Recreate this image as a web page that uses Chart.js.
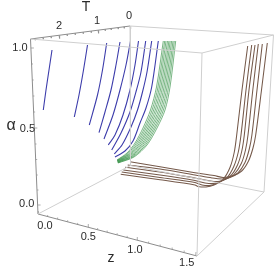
<!DOCTYPE html>
<html>
<head>
<meta charset="utf-8">
<style>
    html, body { margin: 0; padding: 0; background: #fff; }
    canvas { display: block; }
</style>
<script src="https://cdn.jsdelivr.net/npm/chart.js@4"></script>
</head>
<body>
<canvas id="chart" width="280" height="271"></canvas>
<script>
const boxBack = [[130, 26], [130.5, 165.5]];
const boxBottomBackLeft = [[38, 214], [130.5, 165.5]];
const boxBottomBackRight = [[130.5, 165.5], [264, 192]];
const boxTopFront = [[30.5, 39], [202, 53]];
const boxTopBack = [[130, 26], [273.5, 35]];
const boxTopRight = [[202, 53], [273.5, 35]];
const boxFront = [[202, 53], [197, 256]];
const boxRight = [[273.5, 35], [264, 192]];
const boxBottomRight = [[197, 256], [264, 192]];

const axisT = [[130, 26], [30.5, 39]];
const axisAlpha = [[30.5, 39], [38, 214]];
const axisZ = [[38, 214], [197, 256]];

const tTickX = [130, 124, 118, 111, 105, 98, 91, 83, 75, 67, 59, 51, 43, 35];
const tTickY = [26, 26.8, 27.6, 28.5, 29.3, 30.3, 31.2, 32.2, 33.3, 34.4, 35.5, 36.6, 37.7, 38.7];
const zTickX = [38, 47.5, 57.5, 67.5, 77.5, 88, 97.5, 107, 117, 127, 137, 148.5, 160, 172, 184, 195.7];
const zTickY = [214, 216.5, 219, 221.7, 224.4, 227, 229.5, 232, 234.7, 237.4, 240, 243, 246, 249, 252, 255];
const alphaTickX = [37.6, 37, 36.3, 35.7, 35, 34.3, 33.6, 32.9, 32.2, 31.5, 30.9];
const alphaTickY = [205, 190, 175, 159.5, 144, 128, 112, 96, 80, 64, 48];

const blue1 = [[52, 50], [49, 70], [46, 90], [43.3, 110]];
const blue2 = [[87.5, 45], [83.5, 70], [79, 95], [74.3, 117]];
const blue3 = [[106.7, 43], [102.5, 70], [97.5, 95], [89.3, 125]];
const blue4 = [[120, 42], [116, 65], [111, 90], [105, 112], [99, 132.7]];
const blue5 = [[130.5, 41], [126, 65], [120, 90], [113, 115], [104, 139]];
const blue6 = [[138.5, 41], [135, 65], [130, 90], [123, 115], [115, 135], [108.3, 145]];
const blue7 = [[145.7, 41], [141, 72], [136.5, 90], [130, 112], [121, 133], [111.7, 150]];
const blue8 = [[151.7, 41], [147, 72], [142.5, 92], [137.5, 110], [131, 127], [122, 145], [114.3, 154]];
const blue9 = [[158.3, 41], [151.7, 87], [146, 108], [140, 123], [133, 141], [125, 151], [115, 157]];
const blueCurves = [blue1, blue2, blue3, blue4, blue5, blue6, blue7, blue8, blue9];

const green1 = [[163.3, 41], [156.5, 87], [150.5, 110], [143, 128], [135, 143], [127, 153], [117, 160]];
const green2 = [[164.7, 41], [158, 87], [152.1, 110], [144.6, 128], [136.3, 143.2], [127.8, 153.4], [117.1, 160.3]];
const green3 = [[166, 41], [159.5, 87], [153.7, 110], [146.1, 128], [137.7, 143.4], [128.6, 153.9], [117.2, 160.7]];
const green4 = [[167.5, 41], [161, 87], [155.3, 110], [147.7, 128], [139, 143.7], [129.3, 154.3], [117.3, 161]];
const green5 = [[168.9, 41], [162.5, 87], [156.9, 110], [149.2, 128], [140.3, 143.9], [130.1, 154.8], [117.4, 161.3]];
const green6 = [[170.2, 41], [164, 87], [158.6, 110], [150.8, 128], [141.7, 144.1], [130.9, 155.2], [117.6, 161.7]];
const green7 = [[171.6, 41], [165.5, 87], [160.2, 110], [152.3, 128], [143, 144.3], [131.7, 155.7], [117.7, 162]];
const green8 = [[173, 41], [167, 87], [161.8, 110], [153.9, 128], [144.3, 144.6], [132.4, 156.1], [117.8, 162.3]];
const green9 = [[174.3, 41], [168.5, 87], [163.4, 110], [155.4, 128], [145.7, 144.8], [133.2, 156.6], [117.9, 162.7]];
const green10 = [[175.7, 41], [170, 87], [165, 110], [157, 128], [147, 145], [134, 157], [118, 163]];
const greenCurves = [green1, green2, green3, green4, green5, green6, green7, green8, green9, green10];

const brown1 = [[130, 161.7], [160, 166.8], [195, 172.7], [214, 175.5], [223, 177.5], [232, 176], [241.7, 171], [248.5, 161], [253, 148], [255.7, 135], [261.5, 90], [267.3, 43]];
const brown2 = [[127.7, 165], [160, 169], [195, 175], [212, 178], [222, 179], [230, 177.5], [238, 172.8], [245, 162.5], [249.3, 149], [251.9, 135], [257, 90], [262.3, 44]];
const brown3 = [[125, 167.3], [160, 172], [195, 178], [208, 180.5], [218, 181.5], [225, 179.5], [234, 174.5], [241.3, 163.5], [245.5, 150], [248, 135], [252.8, 90], [258.3, 44]];
const brown4 = [[123.3, 170], [160, 175], [195, 180.5], [205, 183], [214, 183.5], [221, 181], [230.5, 176], [237.5, 165], [241.8, 151], [244.3, 135], [249, 90], [255, 45]];
const brown5 = [[121.7, 172], [160, 177.5], [195, 182.5], [202, 185], [210, 185.5], [217.5, 183], [226.7, 178], [233.8, 166.5], [238.3, 152], [241, 135], [246, 90], [251.7, 45]];
const brown6 = [[120.7, 174.3], [160, 179.7], [195, 185], [198, 186.5], [206, 187], [214, 185], [223, 179.5], [230, 167.5], [234.3, 152], [236.7, 135], [242, 90], [247.7, 46]];
const brownCurves = [brown1, brown2, brown3, brown4, brown5, brown6];

const tLabels = [['0', 129, 16], ['1', 97, 21], ['2', 59, 26]];
const alphaLabels = [['1.0', 20, 47.7], ['0.5', 27.5, 128.7], ['0.0', 26.7, 204]];
const zLabels = [['0.0', 45, 225.7], ['0.5', 88.3, 236.7], ['1.0', 135, 250], ['1.5', 186.7, 263.3]];
const axisTitles = [['T', 86, 7], ['z', 111, 258]];
const alphaTitle = ['α', 11, 126];

(() => {
    const toPoints = (pairs) => pairs.map(([x, y]) => ({ x, y }));

    const lineSet = (pairs, color, width, tension = 0) => ({
        data: toPoints(pairs),
        showLine: true,
        borderColor: color,
        borderWidth: width,
        pointRadius: 0,
        tension,
    });

    // short strokes along one axis, every fifth one longer
    const tickSets = (xs, ys, dx, dy) => xs.map((x, i) => {
        const size = i % 5 === 0 ? 1 : 0.5;
        return lineSet([[x, ys[i]], [x + dx * size, ys[i] + dy * size]], '#8c8c8c', 0.7);
    });

    const datasets = [];

    [boxBack, boxBottomBackLeft, boxBottomBackRight, boxTopFront, boxTopBack, boxTopRight, boxFront, boxRight, boxBottomRight]
        .forEach((edge) => datasets.push(lineSet(edge, '#cfcfcf', 1)));

    blueCurves.forEach((curve) => datasets.push(lineSet(curve, '#3c3cab', 1.1, 0.3)));
    greenCurves.forEach((curve) => datasets.push(lineSet(curve, 'rgba(44,140,62,.85)', 0.75, 0.3)));
    brownCurves.forEach((curve) => datasets.push(lineSet(curve, '#75594a', 1.05, 0.3)));

    [axisT, axisAlpha, axisZ].forEach((edge) => datasets.push(lineSet(edge, '#8c8c8c', 1)));
    datasets.push(...tickSets(tTickX, tTickY, 0.6, 3));
    datasets.push(...tickSets(zTickX, zTickY, 0.3, -3));
    datasets.push(...tickSets(alphaTickX, alphaTickY, 3, 0));

    const labelPlugin = {
        id: 'boxLabels',
        afterDatasetsDraw(chart) {
            const { ctx, scales } = chart;
            const put = ([text, x, y], font) => {
                ctx.font = font;
                ctx.fillText(text, scales.x.getPixelForValue(x), scales.y.getPixelForValue(y));
            };
            ctx.save();
            ctx.fillStyle = '#2b2b2b';
            ctx.textAlign = 'center';
            ctx.textBaseline = 'middle';
            [...tLabels, ...alphaLabels, ...zLabels].forEach((label) => put(label, '11px "Liberation Sans"'));
            axisTitles.forEach((label) => put(label, '14px "Liberation Sans"'));
            put(alphaTitle, '16px "Liberation Sans"');
            ctx.restore();
        },
    };

    new Chart(document.getElementById('chart').getContext('2d'), {
        type: 'scatter',
        data: { datasets },
        options: {
            responsive: false,
            animation: false,
            layout: { padding: 0 },
            plugins: {
                legend: { display: false },
                tooltip: { enabled: false },
            },
            scales: {
                x: { display: false, min: 0, max: 280 },
                y: { display: false, min: 0, max: 271, reverse: true },
            },
        },
        plugins: [labelPlugin],
    });
})();
</script>
</body>
</html>
